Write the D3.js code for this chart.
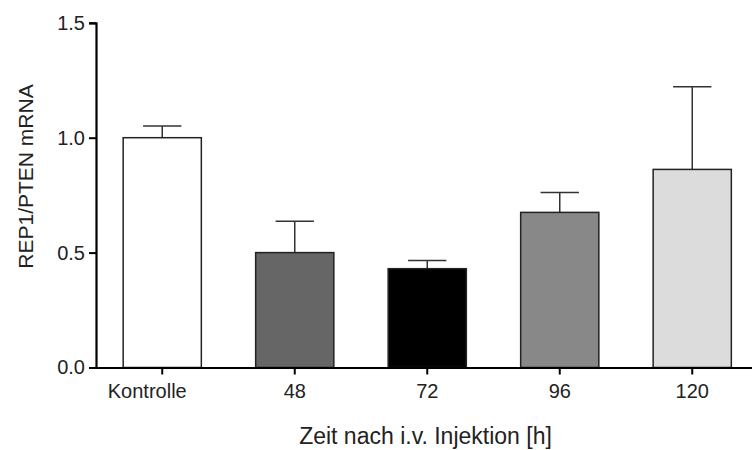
<!DOCTYPE html>
<html>
<head>
<meta charset="utf-8">
<script src="https://cdn.jsdelivr.net/npm/d3@7"></script>
<style>
  html, body { margin: 0; padding: 0; background: #fff; }
  svg { display: block; font-family: "Liberation Sans", Arial, sans-serif; }
</style>
</head>
<body>
<svg id="chart" width="752" height="450"></svg>
<script>
// Groups (hours after i.v. injection) and REP1/PTEN mRNA ratios
const categories = ["Kontrolle", "48", "72", "96", "120"];
const means = [1.0, 0.5, 0.43, 0.675, 0.862];
const sem = [0.051, 0.136, 0.036, 0.086, 0.36];
const fills = ["#ffffff", "#666666", "#000000", "#888888", "#dcdcdc"];
const yTicks = [0, 0.5, 1.0, 1.5];

const svg = d3.select("#chart");
const x0 = 96, y0 = 367.5;

const x = d3.scaleBand()
  .domain(categories)
  .range([x0, 758.5])
  .paddingInner(0.41)
  .paddingOuter(0.205);

const y = d3.scaleLinear()
  .domain([0, 1.5])
  .range([y0, 22.8]);

const data = categories.map((c, i) => ({ c, m: means[i], e: sem[i], f: fills[i] }));

// Error bars (upper whisker only), drawn behind the bars
const capHalf = x.bandwidth() * 0.245;
const eb = svg.append("g").attr("stroke", "#333").attr("stroke-width", 1.5);
eb.selectAll("line.v").data(data).join("line")
  .attr("x1", d => x(d.c) + x.bandwidth() / 2)
  .attr("x2", d => x(d.c) + x.bandwidth() / 2)
  .attr("y1", d => y(d.m))
  .attr("y2", d => y(d.m + d.e));
eb.selectAll("line.cap").data(data).join("line")
  .attr("x1", d => x(d.c) + x.bandwidth() / 2 - capHalf)
  .attr("x2", d => x(d.c) + x.bandwidth() / 2 + capHalf)
  .attr("y1", d => y(d.m + d.e))
  .attr("y2", d => y(d.m + d.e));

// Bars
svg.append("g").selectAll("rect").data(data).join("rect")
  .attr("x", d => x(d.c))
  .attr("y", d => y(d.m))
  .attr("width", x.bandwidth())
  .attr("height", d => y0 - y(d.m))
  .attr("fill", d => d.f)
  .attr("stroke", "#222")
  .attr("stroke-width", 1.5);

// Y axis
const yAxis = svg.append("g")
  .attr("transform", `translate(${x0},0)`)
  .call(d3.axisLeft(y).tickValues(yTicks).tickFormat(d3.format(".1f")).tickSize(7).tickPadding(4));
yAxis.select(".domain").attr("stroke", "#000").attr("stroke-width", 2.2);
yAxis.selectAll(".tick line").attr("stroke", "#000").attr("stroke-width", 2);
yAxis.selectAll(".tick text").attr("font-size", 20).attr("fill", "#222")
  .attr("font-family", "'Liberation Sans', Arial, sans-serif");

// X axis
const xAxis = svg.append("g")
  .attr("transform", `translate(0,${y0})`)
  .call(d3.axisBottom(x).tickSize(7).tickSizeOuter(0));
xAxis.select(".domain").attr("stroke", "#000").attr("stroke-width", 2.2);
xAxis.selectAll(".tick line").attr("stroke", "#000").attr("stroke-width", 2);
xAxis.selectAll(".tick text")
  .attr("font-size", 20).attr("fill", "#222")
  .attr("font-family", "'Liberation Sans', Arial, sans-serif")
  .attr("y", 30).attr("dy", 0)
  .attr("dx", d => d === "Kontrolle" ? -15 : 0);

// Axis titles
svg.append("text")
  .attr("x", 425.5).attr("y", 444)
  .attr("text-anchor", "middle")
  .attr("font-size", 23).attr("fill", "#222")
  .text("Zeit nach i.v. Injektion [h]");

svg.append("text")
  .attr("transform", "translate(33,176.5) rotate(-90)")
  .attr("text-anchor", "middle")
  .attr("font-size", 21).attr("fill", "#222")
  .text("REP1/PTEN mRNA");
</script>
</body>
</html>
